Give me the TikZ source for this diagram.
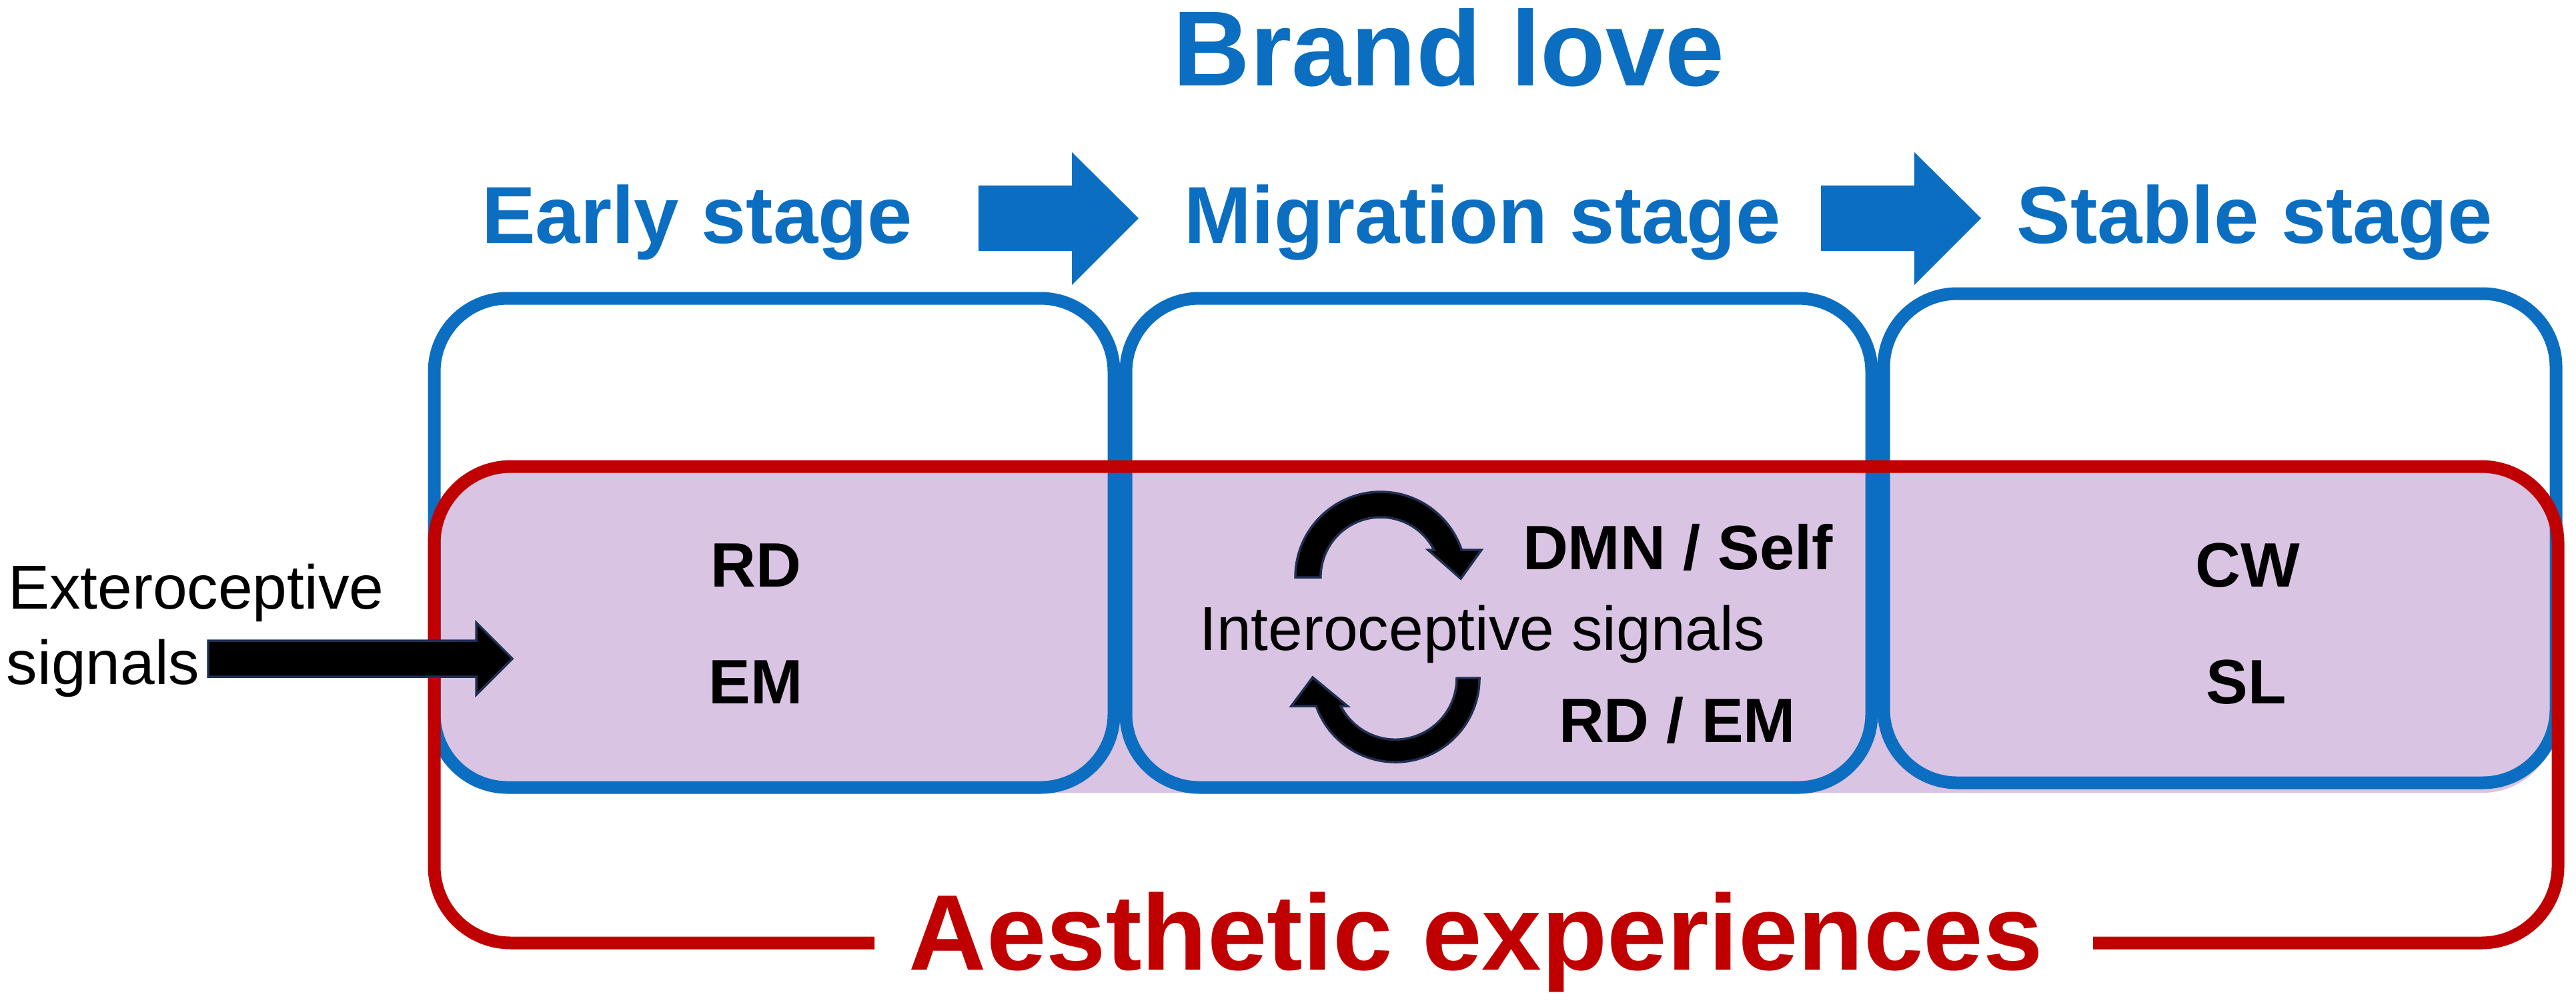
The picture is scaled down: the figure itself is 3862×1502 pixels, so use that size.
\documentclass[tikz,border=0pt]{standalone}
\usepackage{fontspec}
\setmainfont{Liberation Sans}
\definecolor{bblue}{RGB}{11,110,193}
\definecolor{rred}{RGB}{192,0,0}
\definecolor{lilac}{RGB}{217,196,227}
\definecolor{navy}{RGB}{31,47,80}
\begin{document}
\begin{tikzpicture}[x=0.1pt,y=-0.1pt,
  stagebox/.style={draw=bblue, line width=1.9pt, rounded corners=11pt},
  redline/.style={draw=rred, line width=1.9pt, rounded corners=11.5pt},
  title/.style={font=\fontsize{16pt}{19pt}\selectfont\bfseries, text=bblue, inner sep=0, anchor=base},
  stagelabel/.style={font=\fontsize{12.1pt}{14pt}\selectfont\bfseries, text=bblue, inner sep=0, anchor=base},
  term/.style={font=\fontsize{9.4pt}{11pt}\selectfont\bfseries, inner sep=0, anchor=base},
  plain/.style={font=\fontsize{9.3pt}{11pt}\selectfont, inner sep=0},
  aes/.style={font=\fontsize{16.1pt}{19pt}\selectfont\bfseries, text=rred, inner sep=0, anchor=base},
  blockarrow/.style={fill=bblue},
  cyclearrow/.style={fill=black, draw=navy, line width=0.35pt, line join=miter}
]
\useasboundingbox (0,0) rectangle (3862,1502);
\fill[white] (0,0) rectangle (3862,1502);

% lilac band
\fill[lilac, rounded corners=11pt] (655,692) rectangle (3832,1188);

% stage boxes
\draw[stagebox] (651,447) rectangle (1670,1180);
\draw[stagebox] (1688,447) rectangle (2806,1180);
\draw[stagebox] (2824,440) rectangle (3832,1173);

% aesthetic experiences frame
\draw[redline] (1311,1413) -- (651,1413) -- (651,699) -- (3835,699) -- (3835,1413) -- (3138,1413);

% titles
\node[title] (brand) at (2172,128) {Brand love};
\node[stagelabel] (early) at (1045,364) {Early stage};
\node[stagelabel] (migr) at (2223,364) {Migration stage};
\node[stagelabel] (stable) at (3380,364) {Stable stage};
\node[aes] (aesth) at (2213,1453) {Aesthetic experiences};

% stage arrows
\fill[blockarrow] (1467,278) -- (1607,278) -- (1607,228) -- (1707,327) -- (1607,427) -- (1607,376) -- (1467,376) -- cycle;
\fill[blockarrow] (2730,278) -- (2870,278) -- (2870,228) -- (2970,327) -- (2870,427) -- (2870,376) -- (2730,376) -- cycle;

% terms
\node[term] (rd) at (1133,879) {RD};
\node[term] (em) at (1133,1054) {EM};
\node[term] (cw) at (3370,879) {CW};
\node[term] (sl) at (3368,1054) {SL};
\node[term, anchor=base west] (dmn) at (2281,853) {DMN / Self};
\node[term, anchor=base west] (rdem) at (2335,1112) {RD / EM};
\node[plain, anchor=base] (intero) at (2222,974) {Interoceptive signals};
\node[plain, anchor=base west] (ext1) at (10,912) {Exteroceptive};
\node[plain, anchor=base west] (ext2) at (8,1025) {signals};

% exteroceptive arrow
\coordinate (exttail) at (312,987);
\coordinate (exttip) at (768,987);
\draw[cyclearrow] ([yshift=2.7pt]exttail) -- (714,960) -- (714,933) -- (exttip) -- (714,1041) -- (714,1014) -- ([yshift=-2.7pt]exttail) -- cycle;

% cycle arrows
\draw[cyclearrow] (1942,865) arc[start angle=180, end angle=341.3, radius=128] -- (2221,824) -- (2190,867) -- (2141,824) -- (2150,824) arc[start angle=332.9, end angle=180, radius=90] -- cycle;
\draw[cyclearrow] (2218,1016) arc[start angle=0, end angle=160.5, radius=126] -- (1936,1058) -- (1968,1015) -- (2020,1058) -- (2010,1058) arc[start angle=153, end angle=0, radius=92] -- cycle;
\end{tikzpicture}
\end{document}
